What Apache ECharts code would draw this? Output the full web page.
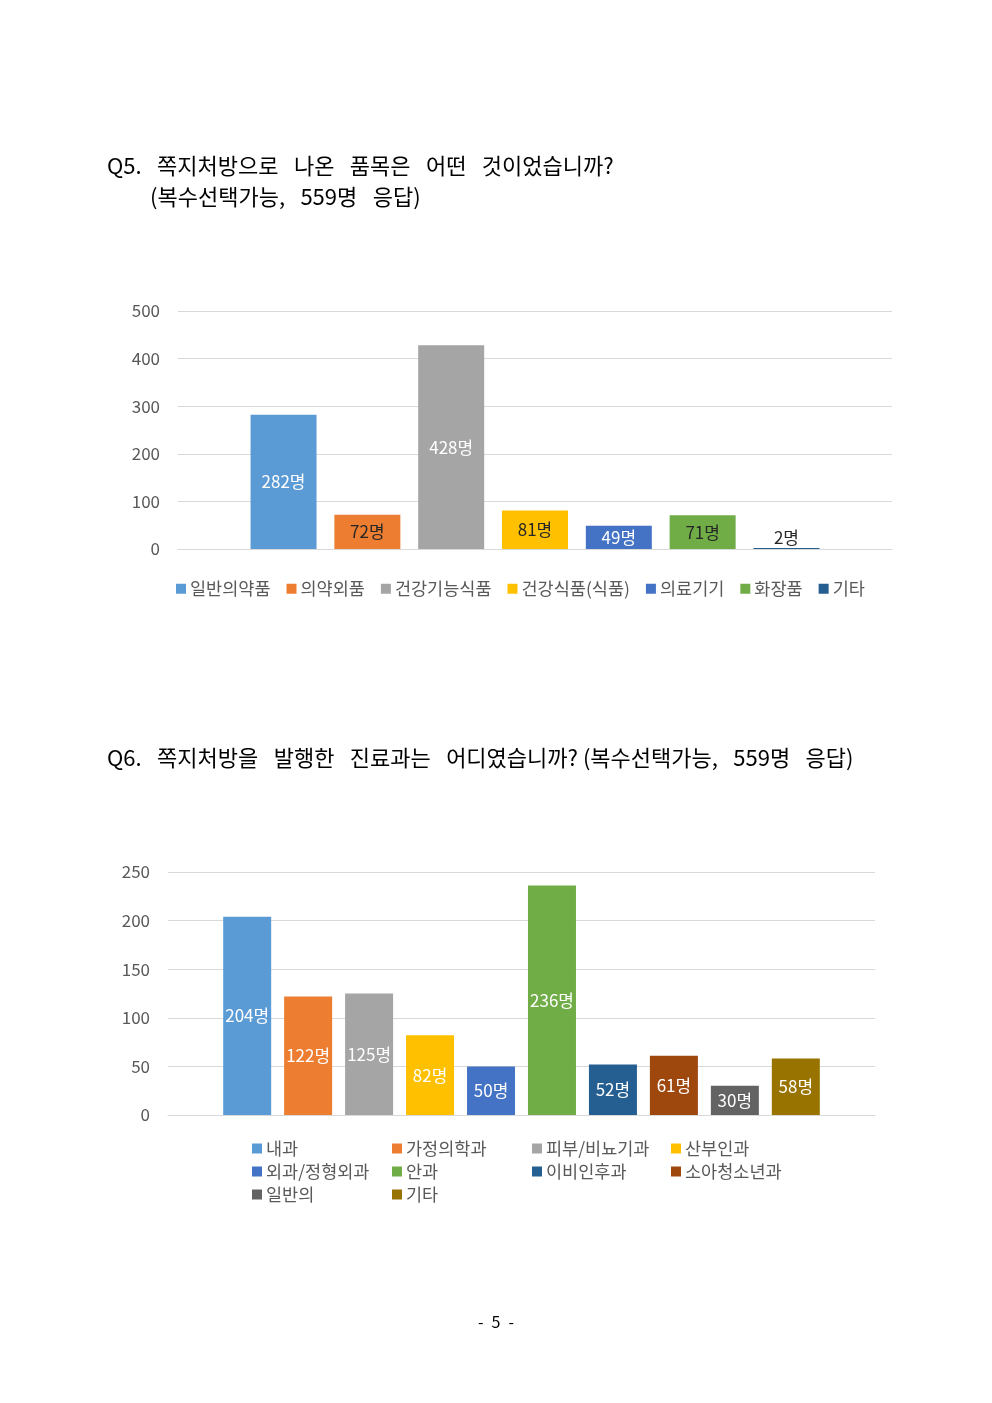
<!DOCTYPE html>
<html>
<head>
<meta charset="utf-8">
<script src="https://cdn.jsdelivr.net/npm/echarts@6/dist/echarts.min.js"></script>
<style>
  html, body { margin: 0; padding: 0; background: #fff; }
  #c1 { position: absolute; left: 0; top: 0; width: 992px; height: 700px; }
  #c2 { position: absolute; left: 0; top: 700px; width: 992px; height: 703px; }
</style>
</head>
<body>
<div id="c1"></div>
<div id="c2"></div>
<script>
// Q5 data
var q5Items = ['일반의약품', '의약외품', '건강기능식품', '건강식품(식품)', '의료기기', '화장품', '기타'];
var q5Counts = [282, 72, 428, 81, 49, 71, 2];
var q5Ticks = [0, 100, 200, 300, 400, 500];

// Q6 data
var q6Items = ['내과', '가정의학과', '피부/비뇨기과', '산부인과', '외과/정형외과', '안과', '이비인후과', '소아청소년과', '일반의', '기타'];
var q6Counts = [204, 122, 125, 82, 50, 236, 52, 61, 30, 58];
var q6Ticks = [0, 50, 100, 150, 200, 250];

// excel office palette
var palette = ['#5B9BD5', '#ED7D31', '#A5A5A5', '#FFC000', '#4472C4', '#70AD47', '#255E91', '#9E480E', '#636363', '#997300'];
var font = "'Noto Sans CJK KR', 'Noto Sans', sans-serif";
var darkLabel = { 1: true, 3: true, 5: true, 6: true };
var W = '\u2002\u2009'; // wide word gap like the hwp document

function yAxisOf(ticks) {
  return {
    type: 'value',
    min: ticks[0],
    max: ticks[ticks.length - 1],
    interval: ticks[1] - ticks[0],
    axisLine: { show: false },
    axisTick: { show: false },
    axisLabel: { color: '#595959', fontSize: 17, fontFamily: font, margin: 18 },
    splitLine: { lineStyle: { color: '#d9d9d9', width: 1 } }
  };
}

function xAxisOf() {
  return {
    type: 'category',
    data: [''],
    axisLine: { lineStyle: { color: '#d9d9d9' } },
    axisTick: { show: false },
    axisLabel: { show: false }
  };
}

var titleStyle = { fontSize: 22, fontWeight: 'normal', color: '#000', fontFamily: font };

// ---- chart 1 ----
var chart1 = echarts.init(document.getElementById('c1'));
var s1 = q5Items.map(function (name, i) {
  return {
    name: name,
    type: 'bar',
    barWidth: 66,
    barGap: '27%',
    itemStyle: { color: palette[i] },
    label: {
      show: true,
      position: i == 6 ? 'top' : 'inside',
      distance: 2,
      formatter: '{c}명',
      fontSize: 17,
      fontFamily: font,
      color: darkLabel[i] ? '#262626' : '#fff'
    },
    data: [q5Counts[i]]
  };
});
chart1.setOption({
  animation: false,
  title: [{
    text: ['Q5.', '쪽지처방으로', '나온', '품목은', '어떤', '것이었습니까?'].join(W),
    left: 102, top: 150,
    textStyle: titleStyle
  }, {
    text: ['(복수선택가능,', '559명', '응답)'].join(W),
    left: 145, top: 181,
    textStyle: titleStyle
  }],
  grid: { left: 178, right: 100, top: 311, bottom: 151 },
  xAxis: xAxisOf(),
  yAxis: yAxisOf(q5Ticks),
  legend: {
    data: q5Items,
    left: 171, top: 575,
    icon: 'rect', itemWidth: 10, itemHeight: 10, itemGap: 16,
    textStyle: { fontSize: 17.5, fontFamily: font, color: '#595959', padding: [0, 0, 0, -1] }
  },
  series: s1
});

// ---- chart 2 ----
var chart2 = echarts.init(document.getElementById('c2'));
var s2 = q6Items.map(function (name, i) {
  return {
    name: name,
    type: 'bar',
    barWidth: 48,
    barGap: '27%',
    itemStyle: { color: palette[i] },
    label: {
      show: true,
      position: 'inside',
      formatter: '{c}명',
      fontSize: 17,
      fontFamily: font,
      color: '#fff'
    },
    data: [q6Counts[i]]
  };
});
var colLeft = [247, 387, 527, 666];
var legends2 = colLeft.map(function (x, c) {
  var names = q6Items.filter(function (n, i) { return i % 4 == c; });
  return {
    data: names,
    orient: 'vertical',
    left: x, top: 434,
    icon: 'rect', itemWidth: 10, itemHeight: 10, itemGap: 4,
    textStyle: { fontSize: 17.5, lineHeight: 19, fontFamily: font, color: '#595959', padding: [0, 0, 0, -1] }
  };
});
chart2.setOption({
  animation: false,
  title: [{
    text: ['Q6.', '쪽지처방을', '발행한', '진료과는', '어디였습니까? (복수선택가능,', '559명', '응답)'].join(W),
    left: 102, top: 42,
    textStyle: titleStyle
  }, {
    text: '-\u20025\u2002-',
    left: 'center', top: 609,
    textStyle: { fontSize: 16, fontWeight: 'normal', color: '#000', fontFamily: font }
  }],
  grid: { left: 168, right: 117, top: 172, bottom: 288 },
  xAxis: xAxisOf(),
  yAxis: yAxisOf(q6Ticks),
  legend: legends2,
  series: s2
});
</script>
</body>
</html>
